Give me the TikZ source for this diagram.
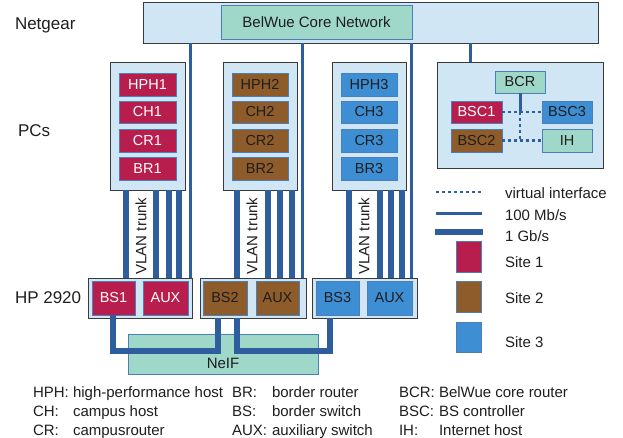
\documentclass[tikz,border=0pt]{standalone}
\usepackage{fontspec}
\setmainfont{Liberation Sans}
\definecolor{lbfill}{HTML}{D0E6F5}
\definecolor{gbox}{HTML}{9FD8C9}
\definecolor{sone}{HTML}{B81E4D}
\definecolor{stwo}{HTML}{8E5B2B}
\definecolor{sthree}{HTML}{3E8ED3}
\definecolor{lnblue}{HTML}{2E5E9E}
\definecolor{inborder}{HTML}{4A7FBA}
\definecolor{outborder}{HTML}{3A3A3A}
\definecolor{txt}{HTML}{1E1E1E}
\begin{document}
\begin{tikzpicture}[x=1pt,y=-1pt,
  every node/.style={inner sep=0pt,outer sep=0pt,text=txt},
  lbbox/.style={draw=outborder,fill=lbfill,line width=1pt,anchor=north west},
  inbox/.style={draw=inborder,line width=1pt,anchor=north west,font=\fontsize{14.5}{16}\selectfont},
  grn/.style={inbox,fill=gbox},
  siteA/.style={inbox,fill=sone,text=white},
  siteB/.style={inbox,fill=stwo},
  siteC/.style={inbox,fill=sthree},
  fast/.style={draw=lnblue,line width=3pt},
  gig/.style={draw=lnblue,line width=6pt},
  virt/.style={draw=lnblue,line width=2.5pt,dash pattern=on 3pt off 3pt},
  lbl/.style={anchor=base west,font=\fontsize{17}{19}\selectfont},
  leg/.style={anchor=base west,font=\fontsize{15}{17}\selectfont},
  foot/.style={anchor=base west,font=\fontsize{15}{17}\selectfont},
  trunk/.style={rotate=90,font=\fontsize{15}{17}\selectfont}
]
\useasboundingbox (0,0) rectangle (623,437);

% core network
\node[lbbox,minimum width=455,minimum height=41] (core) at (143,2) {};
\node[grn,minimum width=191,minimum height=34,font=\fontsize{15}{17}\selectfont] (bw) at (221,5) {BelWue Core Network};

% left labels
\node[lbl] (lnet) at (15,29) {Netgear};
\node[lbl] (lpc) at (18,136) {PCs};
\node[lbl] (lhp) at (15,303) {HP 2920};

% PC boxes
\node[lbbox,minimum width=75,minimum height=128] (pc1) at (110,62) {};
\node[lbbox,minimum width=74,minimum height=128] (pc2) at (223,62) {};
\node[lbbox,minimum width=74,minimum height=128] (pc3) at (332,62) {};

\node[siteA,minimum width=57,minimum height=23] (hph1) at (119,73) {HPH1};
\node[siteA,minimum width=57,minimum height=22] (ch1) at (119,101) {CH1};
\node[siteA,minimum width=57,minimum height=23] (cr1) at (119,129) {CR1};
\node[siteA,minimum width=57,minimum height=23] (br1) at (119,157) {BR1};

\node[siteB,minimum width=56,minimum height=23] (hph2) at (232,73) {HPH2};
\node[siteB,minimum width=56,minimum height=22] (ch2) at (232,101) {CH2};
\node[siteB,minimum width=56,minimum height=23] (cr2) at (232,129) {CR2};
\node[siteB,minimum width=56,minimum height=23] (br2) at (232,157) {BR2};

\node[siteC,minimum width=56,minimum height=23] (hph3) at (341,73) {HPH3};
\node[siteC,minimum width=56,minimum height=22] (ch3) at (341,101) {CH3};
\node[siteC,minimum width=56,minimum height=23] (cr3) at (341,129) {CR3};
\node[siteC,minimum width=56,minimum height=23] (br3) at (341,157) {BR3};

% switch boxes
\node[lbbox,minimum width=104,minimum height=40] (sw1) at (88,278) {};
\node[lbbox,minimum width=106,minimum height=40] (sw2) at (200,278) {};
\node[lbbox,minimum width=105,minimum height=40] (sw3) at (312,278) {};

\node[siteA,minimum width=43,minimum height=34] (bs1) at (92,281) {BS1};
\node[siteA,minimum width=45,minimum height=34] (aux1) at (143,281) {AUX};
\node[siteB,minimum width=44,minimum height=34] (bs2) at (203,281) {BS2};
\node[siteB,minimum width=43,minimum height=34] (aux2) at (256,281) {AUX};
\node[siteC,minimum width=43,minimum height=34] (bs3) at (316,281) {BS3};
\node[siteC,minimum width=45,minimum height=34] (aux3) at (367,281) {AUX};

% core uplinks (100 Mb/s)
\coordinate (u1) at (190,0);
\coordinate (u2) at (302,0);
\coordinate (u3) at (411,0);
\coordinate (u4) at (470,0);
\draw[fast] (u1 |- core.south) -- (u1 |- sw1.north);
\draw[fast] (u2 |- core.south) -- (u2 |- sw2.north);
\draw[fast] (u3 |- core.south) -- (u3 |- sw3.north);

% trunks (1 Gb/s)
\foreach \xx in {126,156,169,179}{
  \draw[gig] (pc1.south -| \xx,0) -- (sw1.north -| \xx,0);}
\foreach \xx in {237,268,280,292}{
  \draw[gig] (pc2.south -| \xx,0) -- (sw2.north -| \xx,0);}
\foreach \xx in {349,380,391,402}{
  \draw[gig] (pc3.south -| \xx,0) -- (sw3.north -| \xx,0);}
\node[trunk] (vt1) at (141,236) {VLAN  trunk};
\node[trunk] (vt2) at (252,236) {VLAN  trunk};
\node[trunk] (vt3) at (364,236) {VLAN  trunk};

% NeIF
\node[grn,minimum width=190,minimum height=40] (neif) at (128,334) {};
\node[font=\fontsize{15}{17}\selectfont] (neiflbl) at (223,363) {NeIF};
\coordinate (n1) at (0,351);
\draw[gig] (bs1.south -| 113,0) -- (n1 -| 113,0) -- (n1 -| 218,0) -- (sw2.south -| 218,0);
\draw[gig] (sw2.south -| 237,0) -- (n1 -| 237,0) -- (n1 -| 330,0) -- (sw3.south -| 330,0);

% right box
\node[lbbox,minimum width=166,minimum height=106] (rb) at (437,62) {};
\draw[fast] (u4 |- core.south) -- (u4 |- rb.north);
\node[grn,minimum width=50,minimum height=22] (bcr) at (495,71) {BCR};
\node[siteA,minimum width=51,minimum height=22] (bsc1) at (451,101) {BSC1};
\node[siteC,minimum width=50,minimum height=22] (bsc3) at (542,101) {BSC3};
\node[siteB,minimum width=51,minimum height=23] (bsc2) at (451,129) {BSC2};
\node[grn,minimum width=50,minimum height=23] (ih) at (542,129) {IH};
\coordinate (j1) at (bcr.south |- bsc1.east);
\coordinate (j2) at (bcr.south |- bsc2.east);
\draw[fast] (bcr.south) -- (j1);
\draw[virt] (j1) -- (j2);
\draw[virt] (bsc1.east) -- (bsc3.west);
\draw[virt] (bsc2.east) -- (ih.west);

% legend
\coordinate (la1) at (436,192); \coordinate (lb1) at (481,192);
\coordinate (la2) at (436,213); \coordinate (lb2) at (482,213);
\coordinate (la3) at (435,232); \coordinate (lb3) at (483,232);
\draw[virt] (la1) -- (lb1);
\draw[fast] (la2) -- (lb2);
\draw[gig] (la3) -- (lb3);
\node[leg] (tv) at (505,198) {virtual interface};
\node[leg] (t100) at (505,220) {100 Mb/s};
\node[leg] (t1g) at (505,241) {1 Gb/s};
\node[inbox,fill=sone,minimum width=25,minimum height=31] (sq1) at (456,241) {};
\node[inbox,fill=stwo,minimum width=25,minimum height=31] (sq2) at (456,281) {};
\node[inbox,fill=sthree,minimum width=25,minimum height=30] (sq3) at (456,322) {};
\node[leg] (ts1) at (505,267) {Site 1};
\node[leg] (ts2) at (505,303) {Site 2};
\node[leg] (ts3) at (505,347) {Site 3};

% footnote legend
\node[foot] (f11) at (33,397) {HPH:};
\node[foot] (f12) at (73,397) {high-performance host};
\node[foot] (f13) at (232,397) {BR:};
\node[foot] (f14) at (272,397) {border router};
\node[foot] (f15) at (399,397) {BCR:};
\node[foot] (f16) at (439,397) {BelWue core router};
\node[foot] (f21) at (33,416) {CH:};
\node[foot] (f22) at (73,416) {campus host};
\node[foot] (f23) at (232,416) {BS:};
\node[foot] (f24) at (272,416) {border switch};
\node[foot] (f25) at (399,416) {BSC:};
\node[foot] (f26) at (439,416) {BS controller};
\node[foot] (f31) at (33,435) {CR:};
\node[foot] (f32) at (73,435) {campusrouter};
\node[foot] (f33) at (232,435) {AUX:};
\node[foot] (f34) at (272,435) {auxiliary switch};
\node[foot] (f35) at (399,435) {IH:};
\node[foot] (f36) at (439,435) {Internet host};
\end{tikzpicture}
\end{document}
